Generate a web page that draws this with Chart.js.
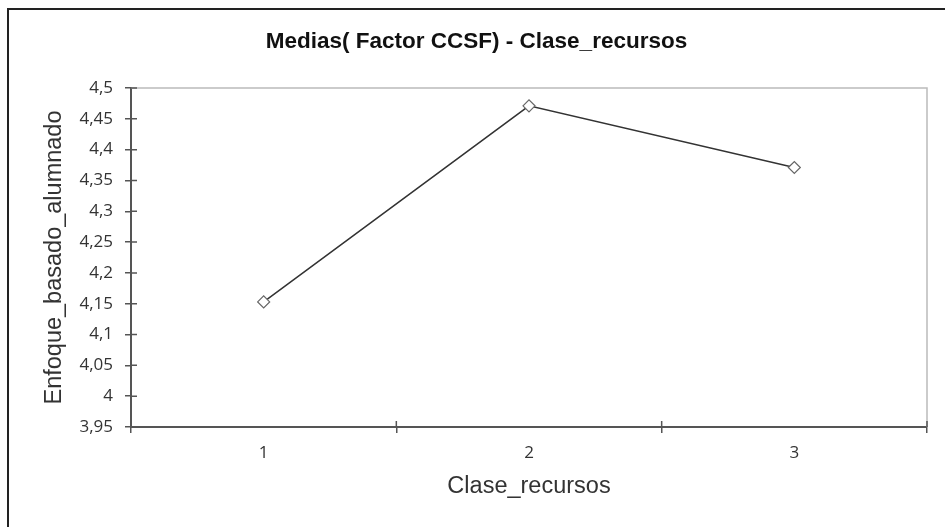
<!DOCTYPE html>
<html>
<head>
<meta charset="utf-8">
<script src="https://cdn.jsdelivr.net/npm/chart.js@4/dist/chart.umd.min.js"></script>
<style>
  html, body { margin: 0; padding: 0; background: #fff; }
  #wrap { width: 945px; height: 527px; }
</style>
</head>
<body>
<div id="wrap"><canvas id="chart"></canvas></div>
<script>
const categories = ['1', '2', '3'];
const medias = [4.153, 4.471, 4.371];
const yMin = 3.95;
const yMax = 4.5;
const yStep = 0.05;

const axisColor = '#555';
const fmt = v => (Math.round(v * 100) / 100).toString().replace('.', ',');

// outer frame + plot border + ticks crossing the axes (Excel look)
const frame = {
  id: 'frame',
  beforeDraw(chart) {
    const ctx = chart.ctx;
    ctx.save();
    ctx.fillStyle = '#fff';
    ctx.fillRect(0, 0, chart.width, chart.height);
    ctx.strokeStyle = '#222';
    ctx.lineWidth = 2;
    ctx.strokeRect(8, 9, chart.width + 20, chart.height + 20);
    ctx.restore();
  },
  afterDraw(chart) {
    const { ctx, chartArea: a, scales } = chart;
    ctx.save();
    ctx.strokeStyle = '#bbb';
    ctx.lineWidth = 1.5;
    ctx.beginPath();
    ctx.moveTo(a.left, a.top);
    ctx.lineTo(a.right, a.top);
    ctx.lineTo(a.right, a.bottom);
    ctx.stroke();
    ctx.strokeStyle = axisColor;
    ctx.lineWidth = 1.5;
    ctx.beginPath();
    scales.y.ticks.forEach((t, i) => {
      const y = scales.y.getPixelForTick(i);
      ctx.moveTo(a.left, y);
      ctx.lineTo(a.left + 6, y);
    });
    const n = categories.length;
    for (let i = 0; i <= n; i++) {
      const x = scales.x.getPixelForValue(i - 0.5);
      ctx.moveTo(x, a.bottom);
      ctx.lineTo(x, a.bottom - 6);
    }
    ctx.stroke();
    ctx.restore();
  }
};

new Chart(document.getElementById('chart'), {
  type: 'line',
  data: {
    labels: categories,
    datasets: [{
      data: medias,
      borderColor: '#333',
      borderWidth: 1.5,
      pointStyle: 'rectRot',
      pointRadius: 6,
      pointBackgroundColor: '#fff',
      pointBorderColor: '#666',
      pointBorderWidth: 1.2,
      tension: 0
    }]
  },
  options: {
    responsive: true,
    maintainAspectRatio: false,
    animation: false,
    layout: { padding: { left: 26, right: 18, top: 0, bottom: 0 } },
    plugins: {
      legend: { display: false },
      tooltip: { enabled: false },
      title: {
        display: true,
        text: 'Medias( Factor CCSF) - Clase_recursos',
        color: '#111',
        font: { family: 'Liberation Sans', size: 22.5, weight: 'bold' },
        padding: { top: 28, bottom: 33 }
      }
    },
    scales: {
      x: {
        offset: true,
        grid: { offset: true, drawOnChartArea: false, color: axisColor, tickLength: 6, lineWidth: 1.5 },
        border: { color: axisColor, width: 2 },
        ticks: { color: '#333', padding: 10, font: { family: 'Open Sans', size: 17 } },
        title: {
          display: true,
          text: 'Clase_recursos',
          color: '#333',
          font: { family: 'Liberation Sans', size: 23.5 },
          padding: { top: 0, bottom: 26 }
        },
        afterFit(scale) { scale.height = 100; }
      },
      y: {
        min: yMin,
        max: yMax,
        grid: { drawOnChartArea: false, color: axisColor, tickLength: 6, lineWidth: 1.5 },
        border: { color: axisColor, width: 2 },
        ticks: {
          stepSize: yStep,
          color: '#333',
          padding: 12,
          font: { family: 'Open Sans', size: 17 },
          callback: v => fmt(v)
        },
        title: {
          display: true,
          text: 'Enfoque_basado_alumnado',
          color: '#333',
          font: { family: 'Liberation Sans', size: 23.5 },
          padding: { top: 14, bottom: 0 }
        },
        afterFit(scale) { scale.width = 105; }
      }
    }
  },
  plugins: [frame]
});
</script>
</body>
</html>
